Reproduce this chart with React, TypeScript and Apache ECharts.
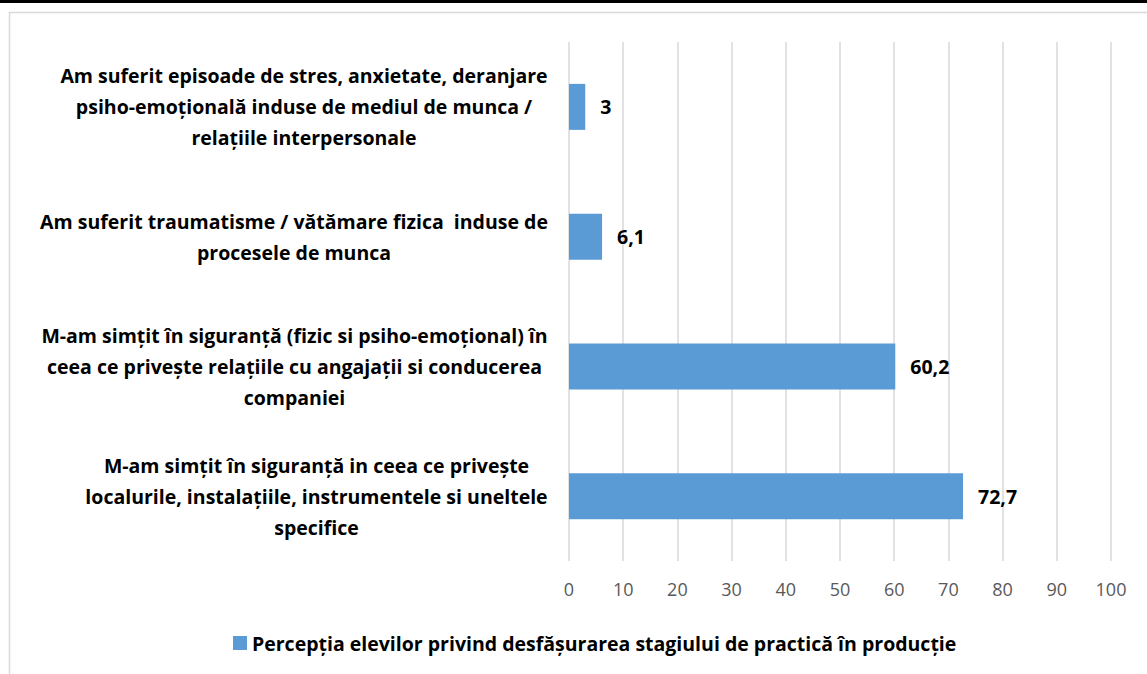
import React, { useEffect, useRef } from "react";
import * as echarts from "echarts";

const categories: string[] = [
  "Am suferit episoade de stres, anxietate, deranjare\npsiho-emoțională induse de mediul de munca /\nrelațiile interpersonale",
  "Am suferit traumatisme / vătămare fizica  induse de\nprocesele de munca",
  "M-am simțit în siguranță (fizic si psiho-emoțional) în\nceea ce privește relațiile cu angajații si conducerea\ncompaniei",
  "M-am simțit în siguranță in ceea ce privește\nlocalurile, instalațiile, instrumentele si uneltele\nspecifice",
];
const values: number[] = [3, 6.1, 60.2, 72.7];
const seriesName = "Percepția elevilor privind desfășurarea stagiului de practică în producție";
const xTicks: number[] = [0, 10, 20, 30, 40, 50, 60, 70, 80, 90, 100];

const FONT = "'Open Sans', 'Noto Sans', sans-serif";
const LABEL_SIZE = 19.5;

function measure(text: string, size: number, weight: string): number {
  const c = document.createElement("canvas");
  const ctx = c.getContext("2d");
  if (!ctx) return text.length * size * 0.5;
  ctx.font = `${weight} ${size}px 'Open Sans'`;
  return ctx.measureText(text).width;
}

export default function App() {
  const ref = useRef<HTMLDivElement>(null);
  useEffect(() => {
    if (!ref.current) return;
    const chart = echarts.init(ref.current, undefined, { renderer: "svg" });
    const rich: Record<string, any> = {};
    categories.forEach((cat, i) => {
      const w = Math.max(...cat.split("\n").map((l) => measure(l, LABEL_SIZE, "bold")));
      rich["c" + i] = {
        width: Math.ceil(w) + 2,
        align: "center",
        fontFamily: FONT,
        fontWeight: "bold",
        fontSize: LABEL_SIZE,
        lineHeight: 31,
        color: "#000000",
      };
    });
    const legendW = 14 + 6 + measure(seriesName, LABEL_SIZE, "bold");
    chart.setOption({
      animation: false,
      backgroundColor: "#ffffff",
      graphic: [
        { type: "rect", left: 0, top: 0, shape: { width: 1147, height: 3 }, style: { fill: "#000000" } },
        {
          type: "rect",
          shape: { x: 9.5, y: 12.5, width: 1200, height: 700 },
          style: { fill: "none", stroke: "#D9D9D9", lineWidth: 1.5 },
        },
      ],
      grid: { left: 569, right: 36, top: 42, bottom: 113 },
      xAxis: {
        type: "value",
        min: 0,
        max: 100,
        interval: 10,
        axisLine: { show: false },
        axisTick: { show: false },
        splitLine: { show: true, lineStyle: { color: "#D9D9D9", width: 1.5 } },
        axisLabel: {
          margin: 19,
          fontFamily: FONT,
          fontSize: 18,
          color: "#595959",
          formatter: (v: number) => (xTicks.includes(v) ? String(v) : ""),
        },
      },
      yAxis: {
        type: "category",
        inverse: true,
        data: categories,
        axisLine: { show: false },
        axisTick: { show: false },
        axisLabel: {
          margin: 20,
          formatter: (value: string, idx: number) =>
            value
              .split("\n")
              .map((l) => `{c${idx}|${l}}`)
              .join("\n"),
          rich,
        },
      },
      legend: {
        bottom: 16,
        left: Math.round(590 - legendW / 2),
        icon: "rect",
        itemWidth: 14,
        itemHeight: 14,
        itemGap: 6,
        textStyle: { fontFamily: FONT, fontWeight: "bold", fontSize: LABEL_SIZE, color: "#000000" },
        data: [seriesName],
      },
      series: [
        {
          name: seriesName,
          type: "bar",
          data: values,
          barWidth: 46,
          itemStyle: { color: "#5B9BD5" },
          label: {
            show: true,
            position: "right",
            distance: 15,
            fontFamily: FONT,
            fontWeight: "bold",
            fontSize: LABEL_SIZE,
            color: "#000000",
            formatter: (p: any) => String(p.value).replace(".", ","),
          },
        },
      ],
    });
    return () => chart.dispose();
  }, []);
  return (
    <div
      ref={ref}
      style={{ position: "fixed", left: 0, top: 0, width: 1147, height: 674 }}
    />
  );
}
